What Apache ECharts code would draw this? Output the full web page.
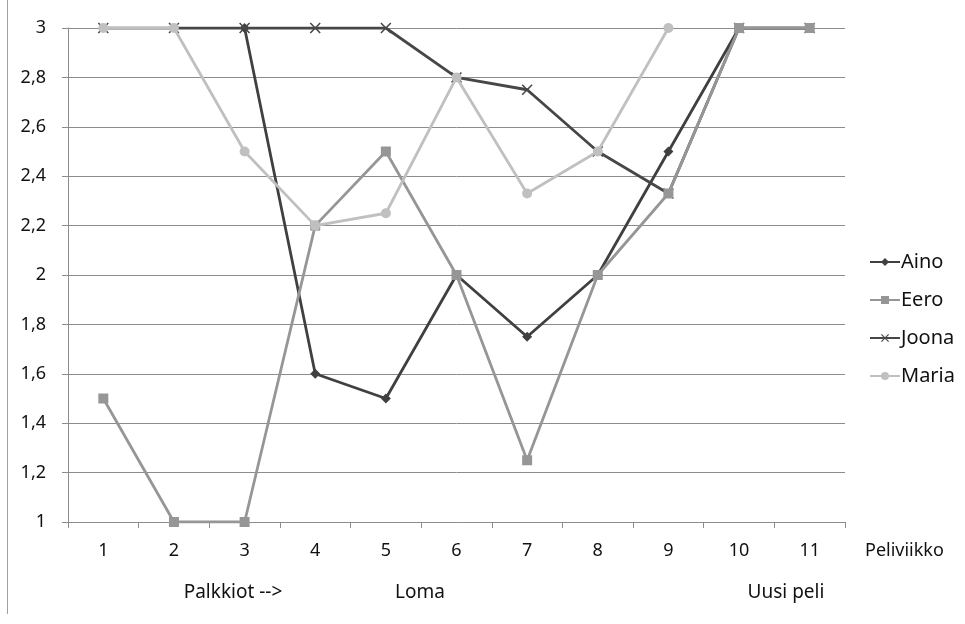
<!DOCTYPE html>
<html>
<head>
<meta charset="utf-8">
<script src="https://cdn.jsdelivr.net/npm/echarts@6/dist/echarts.min.js"></script>
<style>
html,body{margin:0;padding:0;background:#fff;}
#chart{width:965px;height:624px;}
</style>
</head>
<body>
<div id="chart"></div>
<script>
// Game weeks and each player's score per week
const weeks = ['1','2','3','4','5','6','7','8','9','10','11'];
const aino  = [null, null, 3, 1.6, 1.5, 2, 1.75, 2, 2.5, 3, 3];
const eero  = [1.5, 1, 1, 2.2, 2.5, 2, 1.25, 2, 2.33, 3, 3];
const joona = [3, 3, 3, 3, 3, 2.8, 2.75, 2.5, 2.33, 3, 3];
const maria = [3, 3, 2.5, 2.2, 2.25, 2.8, 2.33, 2.5, 3, null, null];
const weekNotes = [
  { text: 'Palkkiot -->', x: 233 },
  { text: 'Loma', x: 420 },
  { text: 'Uusi peli', x: 786 }
];

const FONT = '"Noto Sans", "Open Sans", sans-serif';
const TEXT = '#111';
const crossPath = 'path://M0,1 L1,0 L5,4 L9,0 L10,1 L6,5 L10,9 L9,10 L5,6 L1,10 L0,9 L4,5 Z';

function lineSeries(name, data, color, symbol, size, z) {
  return {
    name: name,
    type: 'line',
    data: data,
    symbol: symbol,
    symbolSize: size,
    showAllSymbol: true,
    connectNulls: false,
    z: z,
    lineStyle: { color: color, width: 2.8 },
    itemStyle: { color: color },
    emphasis: { disabled: true }
  };
}

const chart = echarts.init(document.getElementById('chart'));
chart.setOption({
  animation: false,
  backgroundColor: '#fff',
  textStyle: { fontFamily: FONT },
  grid: { left: 68, right: 120, top: 28, bottom: 102, containLabel: false },
  legend: {
    orient: 'vertical',
    left: 864,
    top: 247,
    itemWidth: 30,
    itemHeight: 10,
    itemGap: 18,
    data: ['Aino', 'Eero', 'Joona', 'Maria'],
    textStyle: { fontSize: 20, color: TEXT, fontFamily: FONT, padding: [0, 0, 0, -4] }
  },
  xAxis: {
    type: 'category',
    data: weeks,
    boundaryGap: true,
    name: 'Peliviikko',
    nameLocation: 'end',
    nameGap: 20,
    nameTextStyle: { fontSize: 18, color: TEXT, verticalAlign: 'top', padding: [20, 0, 0, 0] },
    axisLine: { lineStyle: { color: '#8c8c8c', width: 1 } },
    axisTick: { show: true, alignWithLabel: false, length: 6, lineStyle: { color: '#8c8c8c' } },
    axisLabel: { fontSize: 18, color: TEXT, margin: 20 },
    splitLine: { show: false }
  },
  yAxis: {
    type: 'value',
    min: 1,
    max: 3,
    interval: 0.2,
    axisLine: { show: true, lineStyle: { color: '#8c8c8c', width: 1 } },
    axisTick: { show: true, length: 6, lineStyle: { color: '#8c8c8c' } },
    axisLabel: {
      fontSize: 18, color: TEXT, margin: 22,
      formatter: v => String(Number(v.toFixed(1))).replace('.', ',')
    },
    splitLine: { show: true, lineStyle: { color: '#8c8c8c', width: 1 } }
  },
  graphic: [
    { type: 'line', shape: { x1: 7.5, y1: 0, x2: 7.5, y2: 614 }, style: { stroke: '#a0a0a0', lineWidth: 1 } }
  ].concat(weekNotes.map(n => ({
    type: 'text', x: n.x, y: 593,
    style: { text: n.text, fontSize: 19, fontFamily: FONT, fill: TEXT, align: 'center', verticalAlign: 'middle' }
  }))),
  series: [
    lineSeries('Aino', aino, '#404040', 'diamond', 10, 2),
    lineSeries('Joona', joona, '#474747', crossPath, 11, 3),
    lineSeries('Eero', eero, '#969696', 'rect', 10, 4),
    lineSeries('Maria', maria, '#c0c0c0', 'circle', 10, 5)
  ]
});
</script>
</body>
</html>
